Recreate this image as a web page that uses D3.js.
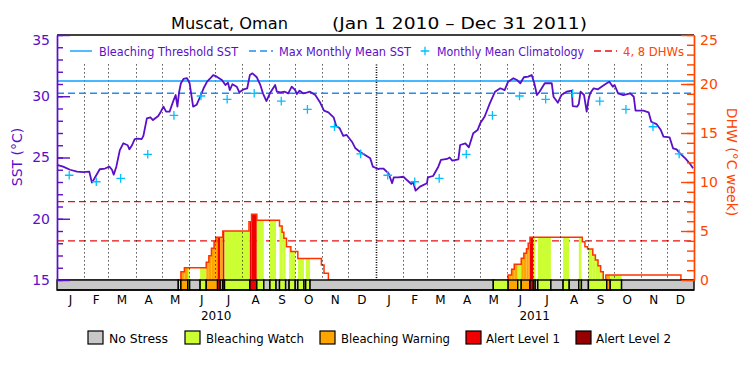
<!DOCTYPE html>
<html><head><meta charset="utf-8">
<script src="https://cdn.jsdelivr.net/npm/d3@7/dist/d3.min.js"></script>
<style>body{margin:0;background:#fff}svg{display:block}text{font-family:"DejaVu Sans",sans-serif}</style>
</head><body><svg id="c" width="750" height="375"></svg>
<script>
// ---------------- DATA ----------------
// daily SST samples: day offset from 2010-01-01, value in °C
const sstDay = [0,7,15,23,30,37,40,43,49,55,60,63,65,68,72,76,81,83,86,89,93,97,99,103,107,110,116,119,122,125,129,131,134,136,138,140,142,145,149,152,154,156,160,164,168,172,175,179,183,189,193,196,198,201,206,209,214,218,221,224,229,233,236,240,244,250,252,256,261,265,269,273,275,278,282,286,290,296,301,306,311,317,320,324,328,332,338,342,347,353,359,362,368,
370,374,380,384,386,391,397,401,406,408,411,416,424,425,431,437,440,447,450,453,460,462,468,472,477,482,485,490,496,502,508,513,517,523,527,531,535,540,544,547,550,553,559,567,569,574,578,584,590,591,596,598,600,604,607,609,611,615,620,624,630,633,637,639,643,649,657,661,663,672,678,681,687,692,695,702,706,710,714,720,725,729];
const sstVal = [24.39,24.25,24.0,23.85,23.8,23.85,22.95,23.3,24.04,24.1,24.25,24.0,23.6,24.25,25.6,26.16,26.0,25.67,26.0,26.5,26.54,26.5,26.76,28.2,28.28,28.06,28.39,28.74,29.15,28.74,28.74,29.15,29.75,30.1,29.15,30.37,31.06,31.41,31.47,31.06,30.1,29.15,29.3,29.96,30.65,31.19,31.41,31.73,31.6,31.33,30.92,31.1,30.5,30.98,30.78,30.32,30.57,30.65,31.73,31.87,31.55,30.92,30.24,29.61,30.24,30.92,30.37,30.32,30.37,30.24,30.78,30.5,30.18,30.46,30.24,30.29,30.37,30.1,29.56,28.82,28.69,28.28,27.57,27.38,26.76,26.84,26.29,25.75,25.47,25.2,24.93,24.25,24.06,
24.1,24.1,23.71,22.9,23.38,23.38,23.43,23.16,22.84,23.02,22.29,22.62,22.9,23.38,23.49,24.25,24.8,24.88,25.0,24.74,24.85,26.02,26.16,25.83,26.98,27.24,27.79,28.33,29.42,30.37,30.65,30.5,31.19,31.47,31.33,31.06,31.55,31.6,31.73,31.06,30.1,30.37,31.06,31.06,29.96,29.47,30.1,30.37,30.46,29.2,29.15,29.37,30.37,30.1,28.74,29.69,30.24,30.65,30.57,30.78,31.06,31.19,30.78,30.92,30.24,30.1,30.24,29.96,28.82,28.82,28.69,27.92,27.73,27.24,26.7,26.65,25.75,25.67,25.34,24.93,24.53,24.12];

// monthly mean climatology (Jan..Dec), plotted on the 15th of each month
const climVal = [23.55,23.02,23.3,25.26,28.44,30.02,29.75,30.24,29.6,28.93,27.51,25.3];
const mmmSST = 30.25;
const thresholdSST = 31.25;
const dhwRefLevels = [4, 8];

// Degree heating weeks: step changes (day offset, value)
const dhwDay = [0,142,146,171,174,177,180,182,190,220,223,229,255,258,260,263,268,276,303,306,311,
517,521,524,532,535,538,540,542,602,605,608,614,617,620,623,626,629,715];
const dhwVal = [0,0.85,1.26,1.8,2.48,3.23,3.9,4.36,5.0,5.95,6.7,6.1,5.5,4.86,4.25,3.4,2.9,2.2,1.53,0.68,0,
0.51,1.09,1.6,2.21,2.72,3.2,3.74,4.35,3.9,3.4,3.16,2.55,2.04,1.46,0.85,0,0.51,0];

// Bleaching stress level runs: start day and level (0 no stress .. 4 alert 2)
const stressStart = [0,139,142,150,152,164,171,184,187,190,192,221,229,237,244,251,255,262,266,273,276,283,285,290,
500,517,528,532,542,546,548,551,566,580,587,598,601,609,630,634,647];
const stressLevel = [0,1,2,1,0,1,2,3,2,3,1,3,1,0,1,0,1,0,1,0,1,0,1,0,
1,2,1,2,3,1,0,1,0,1,0,1,0,1,2,1,0];

const monthLabels = ["J","F","M","A","M","J","J","A","S","O","N","D"];
const yearLabels = ["2010","2011"];
const sstMajorTicks = [15,20,25,30,35];
const dhwMajorTicks = [0,5,10,15,20,25];
const stressNames = ["No Stress","Bleaching Watch","Bleaching Warning","Alert Level 1","Alert Level 2"];
const stressColors = ["#c8c8c8","#ccff33","#ffa500","#f00000","#960000"];
const titleParts = ["Muscat, Oman","(Jan 1 2010 \u2013 Dec 31 2011)"];
const topLegend = ["Bleaching Threshold SST","Max Monthly Mean SST","Monthly Mean Climatology","4, 8 DHWs"];

// ---------------- DRAW ----------------
const PURPLE = "#5a0fc8", ORANGE = "#ff4500", TH = "#0aa0ff", MMMC = "#1e8ff0", CROSS = "#00c0ff", DHWDASH = "#e81010", DHWLINE = "#ff3300";
const svg = d3.select("#c");
const t0 = Date.UTC(2010,0,1), t1 = Date.UTC(2012,0,1), DAY = 864e5;
const dd = d => new Date(t0 + d*DAY);
const x = d3.scaleUtc().domain([new Date(t0), new Date(t1)]).range([57, 694]);
const yS = d3.scaleLinear().domain([15,35]).range([280,35]);
const yD = d3.scaleLinear().domain([0,25]).range([280,35]);

function stepAt(days, vals, d){ let v = vals[0]; for (let i=0;i<days.length;i++){ if (days[i] <= d) v = vals[i]; else break; } return v; }

// reference DHW dashed lines
svg.append("g").selectAll("line").data(dhwRefLevels).join("line")
  .attr("x1", x.range()[0]).attr("x2", x.range()[1])
  .attr("y1", d => yD(d)).attr("y2", d => yD(d))
  .attr("stroke", DHWDASH).attr("stroke-width", 1.3).attr("stroke-dasharray", "7,4");

// stress-coloured DHW columns
const segs = [];
for (let d = 0; d < 730; d++) {
  const lv = stepAt(stressStart, stressLevel, d), dv = stepAt(dhwDay, dhwVal, d);
  const last = segs[segs.length-1];
  if (last && last.lv === lv && last.dv === dv) last.e = d+1; else segs.push({s:d, e:d+1, lv, dv});
}
svg.append("g").selectAll("rect").data(segs.filter(s => s.lv > 0 && s.dv > 0)).join("rect")
  .attr("x", s => x(dd(s.s))).attr("width", s => x(dd(s.e)) - x(dd(s.s)))
  .attr("y", s => yD(s.dv)).attr("height", s => yD(0) - yD(s.dv))
  .attr("fill", s => stressColors[s.lv]);

// DHW outline
const dhwPts = dhwDay.map((d,i) => [d, dhwVal[i]]).concat([[730, dhwVal[dhwVal.length-1]]]);
svg.append("path").datum(dhwPts)
  .attr("d", d3.line().x(p => x(dd(p[0]))).y(p => yD(p[1])).curve(d3.curveStepAfter))
  .attr("fill", "none").attr("stroke", DHWLINE).attr("stroke-width", 1.5);

// month dotted lines
const monthBounds = d3.utcMonth.range(new Date(Date.UTC(2010,1,1)), new Date(t1));
svg.append("g").selectAll("line").data(monthBounds).join("line")
  .attr("x1", d => Math.round(x(d)) + 0.5).attr("x2", d => Math.round(x(d)) + 0.5)
  .attr("y1", yD(22)).attr("y2", yD(0))
  .attr("stroke", "#000").attr("stroke-width", d => d.getUTCMonth() === 0 ? 1.6 : 1)
  .attr("stroke-dasharray", d => d.getUTCMonth() === 0 ? "1,1.5" : "1,3");

// stress band
const runs = stressStart.map((s,i) => ({s, e: i+1 < stressStart.length ? stressStart[i+1] : 730, lv: stressLevel[i]}));
svg.append("g").selectAll("rect").data(runs).join("rect")
  .attr("x", r => x(dd(r.s))).attr("width", r => x(dd(r.e)) - x(dd(r.s)))
  .attr("y", yD(0)).attr("height", yD(-1.02) - yD(0))
  .attr("fill", r => stressColors[r.lv]).attr("stroke", "#000").attr("stroke-width", 1.4);

// threshold & MMM
svg.append("line").attr("x1", x.range()[0]).attr("x2", x.range()[1])
  .attr("y1", yS(thresholdSST)).attr("y2", yS(thresholdSST)).attr("stroke", TH).attr("stroke-width", 1.5);
svg.append("line").attr("x1", x.range()[0]).attr("x2", x.range()[1])
  .attr("y1", yS(mmmSST)).attr("y2", yS(mmmSST)).attr("stroke", MMMC).attr("stroke-width", 1.5).attr("stroke-dasharray", "7,4");

// SST line
svg.append("path").datum(sstDay.map((d,i) => [d, sstVal[i]]))
  .attr("d", d3.line().x(p => x(dd(p[0]))).y(p => yS(p[1])))
  .attr("fill", "none").attr("stroke", PURPLE).attr("stroke-width", 1.8).attr("stroke-linejoin", "round");

// climatology crosses
const climPts = [];
[2010, 2011].forEach(yr => climVal.forEach((v,m) => climPts.push({t: new Date(Date.UTC(yr, m, 15)), v})));
svg.append("g").selectAll("path").data(climPts).join("path")
  .attr("transform", p => `translate(${x(p.t)},${yS(p.v)})`)
  .attr("d", "M-4.3,0H4.3M0,-4.3V4.3").attr("stroke", CROSS).attr("stroke-width", 1.3);

// frame top
svg.append("line").attr("x1", 57).attr("x2", 694).attr("y1", yS(35)).attr("y2", yS(35)).attr("stroke", "#000").attr("stroke-width", 1.4);

// left axis
function styleAxis(g, col){ g.attr("color", col).attr("font-family", "DejaVu Sans").attr("font-size", 14); g.selectAll("path,line").attr("stroke-width", 1.4); }
const gL = svg.append("g").attr("transform", `translate(${x.range()[0]},0)`);
gL.call(d3.axisLeft(yS).tickValues(d3.range(15,36,1)).tickSize(-6).tickSizeOuter(0).tickFormat(""));
gL.call(g => styleAxis(g, PURPLE));
const gL2 = svg.append("g").attr("transform", `translate(${x.range()[0]},0)`);
gL2.call(d3.axisLeft(yS).tickValues(sstMajorTicks).tickSize(-13).tickSizeOuter(0).tickPadding(7).tickFormat(d3.format("d")));
gL2.call(g => styleAxis(g, PURPLE));
gL2.selectAll("text").filter(d => d === 35).attr("y", 5);

// right axis
const gR = svg.append("g").attr("transform", `translate(${x.range()[1]},0)`);
gR.call(d3.axisRight(yD).tickValues(d3.range(0,26,1)).tickSize(-7).tickSizeOuter(0).tickFormat(""));
gR.call(g => styleAxis(g, ORANGE));
const gR2 = svg.append("g").attr("transform", `translate(${x.range()[1]},0)`);
gR2.call(d3.axisRight(yD).tickValues(dhwMajorTicks).tickSize(-13).tickSizeOuter(0).tickPadding(6).tickFormat(d3.format("d")));
gR2.call(g => styleAxis(g, ORANGE));
gR2.selectAll("text").filter(d => d === 25).attr("y", 5);

// bottom line
svg.append("line").attr("x1", 57).attr("x2", 694).attr("y1", yD(-1.02)).attr("y2", yD(-1.02)).attr("stroke", "#000").attr("stroke-width", 1.4);

// month labels
const months = d3.utcMonth.range(new Date(t0), new Date(t1));
svg.append("g").selectAll("text").data(months).join("text")
  .attr("x", m => (x(m) + x(d3.utcMonth.offset(m,1)))/2).attr("y", 303.5)
  .attr("text-anchor", "middle").attr("font-size", 12).attr("fill", "#000")
  .text(m => monthLabels[m.getUTCMonth()]);
svg.append("g").selectAll("text").data(yearLabels).join("text")
  .attr("x", (yl,i) => (x(new Date(Date.UTC(2010+i,0,1))) + x(new Date(Date.UTC(2011+i,0,1))))/2).attr("y", 319.5)
  .attr("text-anchor", "middle").attr("font-size", 12).attr("fill", "#000").text(d => d);

// axis titles
svg.append("text").attr("transform", "translate(22,157) rotate(-90)").attr("text-anchor", "middle")
  .attr("font-size", 14).attr("fill", PURPLE).text("SST (\u00B0C)");
svg.append("text").attr("transform", "translate(727,162) rotate(90)").attr("text-anchor", "middle")
  .attr("font-size", 14).attr("fill", ORANGE).text("DHW (\u00B0C week)");

// title
svg.append("text").attr("x", 171).attr("y", 28.5).attr("font-size", 16.5).attr("fill", "#000")
  .attr("textLength", 117).attr("lengthAdjust", "spacingAndGlyphs").text(titleParts[0]);
svg.append("text").attr("x", 332).attr("y", 28.5).attr("font-size", 16.5).attr("fill", "#000")
  .attr("textLength", 255).attr("lengthAdjust", "spacingAndGlyphs").text(titleParts[1]);

// top legend
const LY = 51;
svg.append("line").attr("x1", 70).attr("x2", 92).attr("y1", LY).attr("y2", LY).attr("stroke", TH).attr("stroke-width", 1.4);
svg.append("line").attr("x1", 249).attr("x2", 273).attr("y1", LY).attr("y2", LY).attr("stroke", MMMC).attr("stroke-width", 1.4).attr("stroke-dasharray", "7,4");
svg.append("path").attr("transform", `translate(425,${LY})`).attr("d", "M-4.3,0H4.3M0,-4.3V4.3").attr("stroke", CROSS).attr("stroke-width", 1.3);
svg.append("line").attr("x1", 594).attr("x2", 617).attr("y1", LY).attr("y2", LY).attr("stroke", DHWDASH).attr("stroke-width", 1.4).attr("stroke-dasharray", "7,4");
const legX = [99, 279, 437, 623], legW = [139, 132, 147, 61], legC = [PURPLE, PURPLE, PURPLE, ORANGE];
svg.append("g").selectAll("text").data(topLegend).join("text")
  .attr("x", (d,i) => legX[i]).attr("y", LY + 4.5).attr("font-size", 11.5)
  .attr("fill", (d,i) => legC[i]).attr("textLength", (d,i) => legW[i]).attr("lengthAdjust", "spacingAndGlyphs").text(d => d);

// bottom legend
const sqX = [88, 185, 320, 466, 576], txX = [109, 206, 341, 486, 596], txW = [59, 98, 109, 74, 75];
const bl = svg.append("g");
bl.selectAll("rect").data(stressNames).join("rect")
  .attr("x", (d,i) => sqX[i]).attr("y", 331).attr("width", 15).attr("height", 13)
  .attr("fill", (d,i) => stressColors[i]).attr("stroke", "#000").attr("stroke-width", 1.2);
bl.selectAll("text").data(stressNames).join("text")
  .attr("x", (d,i) => txX[i]).attr("y", 342.5).attr("font-size", 12).attr("fill", "#000")
  .attr("textLength", (d,i) => txW[i]).attr("lengthAdjust", "spacingAndGlyphs").text(d => d);
</script></body></html>
